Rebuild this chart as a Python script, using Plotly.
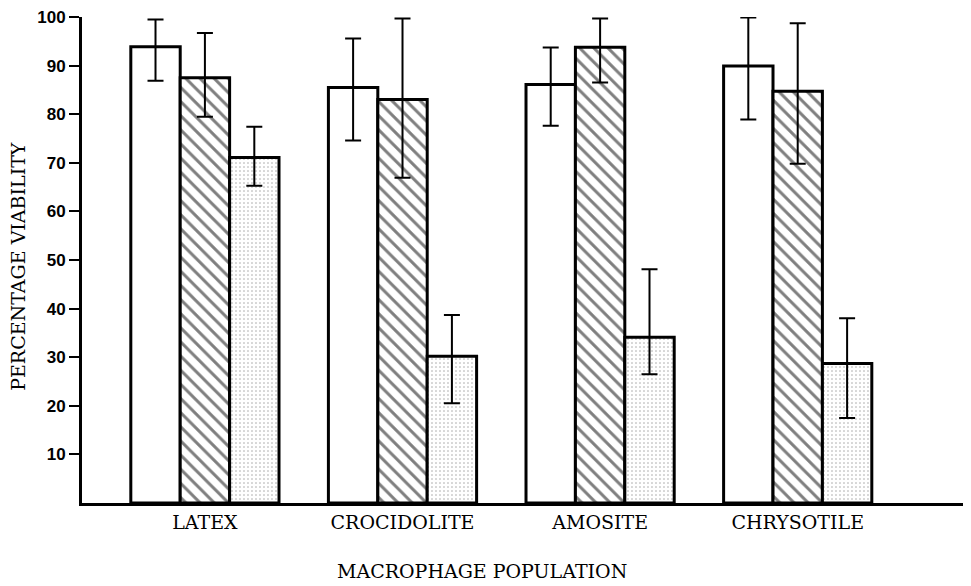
import plotly.graph_objects as go

categories = ["LATEX", "CROCIDOLITE", "AMOSITE", "CHRYSOTILE"]

# series 1 (open bars)
open_mean = [93.9, 85.5, 86.1, 89.9]
open_upper = [99.5, 95.6, 93.7, 99.9]
open_lower = [86.9, 74.6, 77.6, 78.9]

# series 2 (hatched bars)
hatch_mean = [87.5, 83.0, 93.8, 84.7]
hatch_upper = [96.7, 99.7, 99.7, 98.7]
hatch_lower = [79.5, 66.9, 86.5, 69.8]

# series 3 (stippled bars)
dot_mean = [71.1, 30.2, 34.1, 28.7]
dot_upper = [77.4, 38.7, 48.1, 38.0]
dot_lower = [65.3, 20.5, 26.5, 17.5]

y_ticks = [10, 20, 30, 40, 50, 60, 70, 80, 90, 100]


def err(mean, upper, lower):
    return dict(
        type="data",
        symmetric=False,
        array=[u - m for u, m in zip(upper, mean)],
        arrayminus=[m - l for m, l in zip(mean, lower)],
        color="black",
        thickness=2,
        width=8,
    )


fig = go.Figure()
fig.add_trace(go.Bar(
    x=categories, y=open_mean,
    marker=dict(color="white", line=dict(color="black", width=3)),
    error_y=err(open_mean, open_upper, open_lower),
))
fig.add_trace(go.Bar(
    x=categories, y=hatch_mean,
    marker=dict(color="white", line=dict(color="black", width=3),
                pattern=dict(shape="\\", fgcolor="black", bgcolor="white",
                             size=10, solidity=0.3)),
    error_y=err(hatch_mean, hatch_upper, hatch_lower),
))
fig.add_trace(go.Bar(
    x=categories, y=dot_mean,
    marker=dict(color="white", line=dict(color="black", width=3),
                pattern=dict(shape=".", fgcolor="#444", bgcolor="white",
                             size=4, solidity=0.12)),
    error_y=err(dot_mean, dot_upper, dot_lower),
))

# the page body has an 8px margin, so the figure is sized/offset to compensate
fig.update_layout(
    width=963, height=578,
    margin=dict(l=74, r=0, t=9, b=83),
    paper_bgcolor="white", plot_bgcolor="white",
    barmode="group", bargap=0.25, bargroupgap=0,
    showlegend=False,
    xaxis=dict(
        range=[-0.622, 3.877],
        showline=True, linecolor="black", linewidth=3,
        showgrid=False, zeroline=False, ticks="",
        tickfont=dict(family="DejaVu Serif", size=19, color="black"),
        automargin=False,
    ),
    yaxis=dict(
        range=[0, 100],
        tickvals=y_ticks,
        showline=True, linecolor="black", linewidth=3,
        showgrid=False, zeroline=False,
        ticks="outside", ticklen=10, tickwidth=2, tickcolor="black",
        tickfont=dict(family="Liberation Sans", size=17, color="black", weight="bold"),
        ticklabeloverflow="allow",
        automargin=False,
    ),
    annotations=[
        dict(text="PERCENTAGE VIABILITY", xref="paper", yref="paper",
             x=0, y=0.486, xshift=-64, textangle=-90, showarrow=False,
             xanchor="center", yanchor="middle",
             font=dict(family="DejaVu Serif", size=19, color="black")),
        dict(text="MACROPHAGE POPULATION", xref="paper", yref="paper",
             x=0.45, y=0, yshift=-68, showarrow=False,
             xanchor="center", yanchor="middle",
             font=dict(family="DejaVu Serif", size=19, color="black")),
    ],
)

fig.write_html("out.html")
